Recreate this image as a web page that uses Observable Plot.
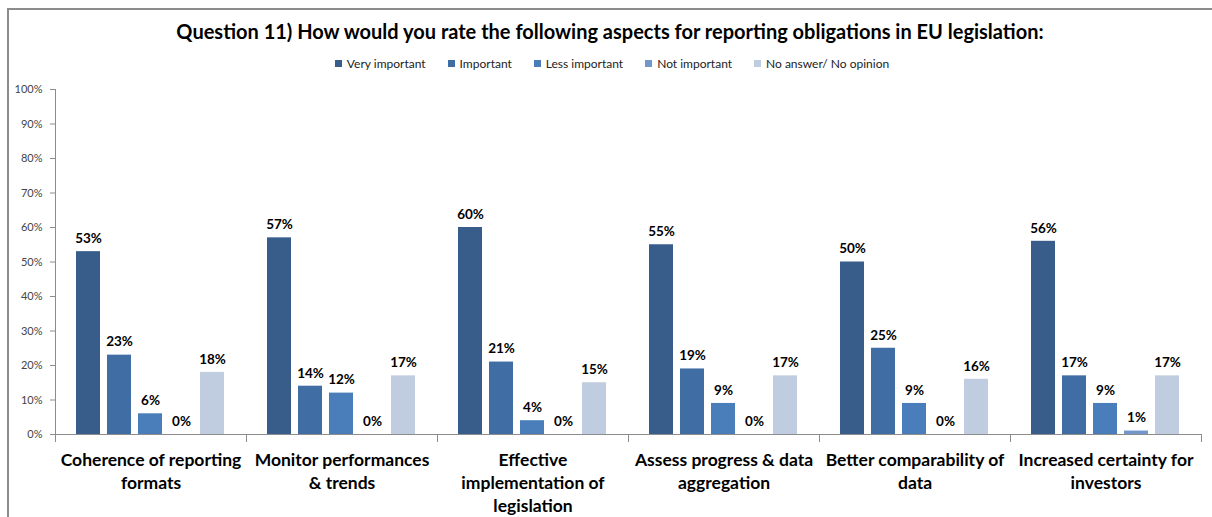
<!DOCTYPE html>
<html>
<head>
<meta charset="utf-8">
<script src="https://cdn.jsdelivr.net/npm/d3@7"></script>
<script src="https://cdn.jsdelivr.net/npm/@observablehq/plot@0.6"></script>
<style>
  html, body { margin: 0; padding: 0; background: #fff; }
  body { width: 1212px; height: 517px; position: relative; overflow: hidden; font-family: Lato, "DejaVu Sans", sans-serif; }
  #border { position: absolute; left: 7px; top: 8px; width: 1300px; height: 600px; border-left: 2px solid #8c8c8c; border-top: 2px solid #8c8c8c; box-sizing: border-box; }
  #title { position: absolute; top: 19px; left: 4px; width: 1212px; text-align: center; font-size: 20px; font-weight: bold; color: #000; }
  #legend { position: absolute; top: 56px; left: 6px; width: 1212px; display: flex; justify-content: center; gap: 22px; font-size: 12px; color: #222; }
  #legend .item { display: flex; align-items: center; gap: 5px; }
  #legend .sw { width: 7px; height: 7px; display: inline-block; }
  #chart { position: absolute; left: 0; top: 76px; }
</style>
</head>
<body>
<div id="border"></div>
<div id="title"></div>
<div id="legend"></div>
<div id="chart"></div>
<script>
const titleText = "Question 11) How would you rate the following aspects for reporting obligations in EU legislation:";
const categories = [
  "Coherence of reporting\nformats",
  "Monitor performances\n& trends",
  "Effective\nimplementation of\nlegislation",
  "Assess progress & data\naggregation",
  "Better comparability of\ndata",
  "Increased certainty for\ninvestors"
];
const series = ["Very important", "Important", "Less important", "Not important", "No answer/ No opinion"];
const veryImportant = [53, 57, 60, 55, 50, 56];
const important = [23, 14, 21, 19, 25, 17];
const lessImportant = [6, 12, 4, 9, 9, 9];
const notImportant = [0, 0, 0, 0, 0, 1];
const noAnswer = [18, 17, 15, 17, 16, 17];
const yTicks = [0, 10, 20, 30, 40, 50, 60, 70, 80, 90, 100];
const colors = ["#385D8A", "#406DA4", "#4A7EBB", "#7397CD", "#C0CCE0"];

const seriesValues = [veryImportant, important, lessImportant, notImportant, noAnswer];
const data = [];
categories.forEach((c, i) => {
  series.forEach((s, j) => data.push({category: c, series: s, value: seriesValues[j][i]}));
});

document.getElementById("title").textContent = titleText;
const legend = document.getElementById("legend");
series.forEach((s, j) => {
  const item = document.createElement("div");
  item.className = "item";
  const sw = document.createElement("span");
  sw.className = "sw";
  sw.style.background = colors[j];
  const t = document.createElement("span");
  t.textContent = s;
  item.appendChild(sw);
  item.appendChild(t);
  legend.appendChild(item);
});

const axisStroke = "#8c8c8c";
const chart = Plot.plot({
  width: 1212,
  height: 441,
  marginTop: 13,
  marginBottom: 83,
  marginLeft: 52,
  marginRight: 9,
  style: {fontFamily: "Lato, 'DejaVu Sans', sans-serif", background: "transparent"},
  fx: {domain: categories, padding: 0, label: null},
  x: {domain: series, paddingInner: 0.22, paddingOuter: 0.61, axis: null},
  y: {domain: [0, 100], label: null},
  color: {domain: series, range: colors},
  marks: [
    Plot.frame({anchor: "left", fx: () => categories[0], stroke: axisStroke, insetBottom: -7}),
    Plot.frame({anchor: "left", stroke: axisStroke, insetTop: 345, insetBottom: -7}),
    Plot.frame({anchor: "right", fx: () => categories[categories.length - 1], stroke: axisStroke, insetTop: 345, insetBottom: -7}),
    Plot.ruleY([0], {stroke: axisStroke}),
    Plot.axisY({ticks: yTicks, tickFormat: d => d + "%", tickSize: 5, tickPadding: 8, fontSize: 11, color: "#444", stroke: axisStroke, label: null}),
    Plot.axisFx({anchor: "bottom", tickSize: 0, tickPadding: 15, fontSize: 17.5, fontWeight: "bold", lineHeight: 1.32, fill: "#000", label: null}),
    Plot.barY(data, {fx: "category", x: "series", y: "value", fill: "series"}),
    Plot.text(data, {fx: "category", x: "series", y: "value", text: d => d.value + "%", dy: -13, fontSize: 13.5, fontWeight: "bold", fill: "#000"})
  ]
});
document.getElementById("chart").appendChild(chart);
</script>
</body>
</html>
